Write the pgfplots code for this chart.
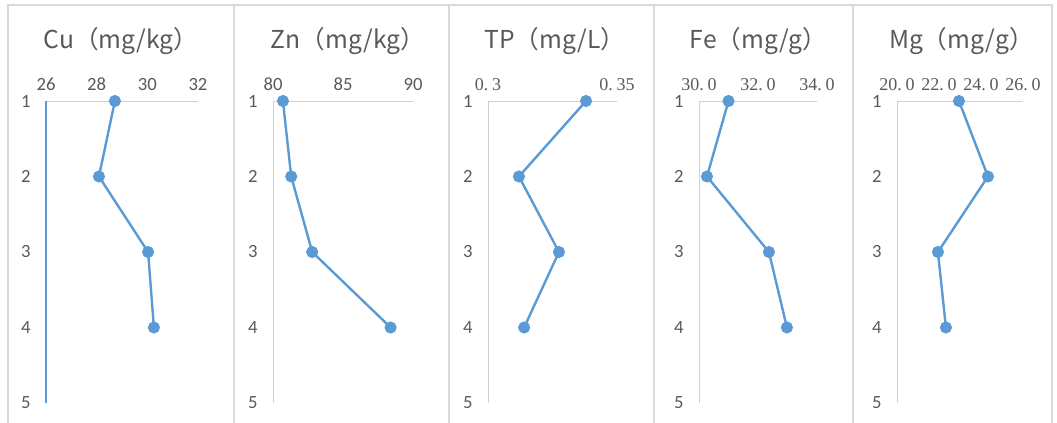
\documentclass[border=0pt]{standalone}
\usepackage{pgfplots}
\pgfplotsset{compat=1.18}
\usepackage{fontspec}
\setmainfont{Carlito}
\newfontfamily\cjk{Noto Sans CJK SC}
\newfontfamily\carlito{Carlito}
\newfontfamily\sernum{Liberation Serif}
\definecolor{blueline}{HTML}{5B9BD5}
\definecolor{txtgray}{HTML}{595959}
\definecolor{axisgray}{HTML}{D0D0D0}
\definecolor{framegray}{HTML}{D9D9D9}
\newcommand{\TL}[1]{\mbox{\carlito\fontsize{14}{15}\selectfont #1}}
\newcommand{\TS}[1]{\mbox{\sernum\fontsize{13.5}{14}\selectfont #1}}
\newcommand{\dt}{.\hspace{0.2em}}
\pgfplotsset{
  panel/.style={
    scale only axis, anchor=south west, height=226.5pt,
    ymin=1, ymax=5, y dir=reverse,
    axis x line*=top, axis y line*=left,
    axis line style={draw=axisgray, line width=0.75pt, -},
    ytick={1,2,3,4,5}, yticklabels={\TL{1},\TL{2},\TL{3},\TL{4},\TL{5}},
    tick style={draw=none},
    major tick length=0pt,
    tick label style={text=txtgray},
    yticklabel style={xshift=-8pt},
    xticklabel style={yshift=4pt},
    clip=false,
  },
  series/.style={color=blueline, line width=1.8pt, mark=*, mark size=3.6pt,
    mark options={solid, fill=blueline, draw=blueline}},
}
\begin{document}
\begin{tikzpicture}
\useasboundingbox (0,0) rectangle (792.75pt,-317.25pt);
\draw[framegray, line width=1.5pt] (6pt,-317.25pt) -- (6pt,-3.75pt) -- (789pt,-3.75pt) -- (789pt,-317.25pt);
\foreach \xx in {175.5,336.75,490.5,639.75}
  \draw[framegray, line width=1.5pt] (\xx pt,-3.75pt) -- (\xx pt,-317.25pt);

% Cu
\begin{axis}[panel, at={(34.5pt,-302.25pt)}, width=114pt,
  xmin=26, xmax=32, xtick={26,28,30,32}, xticklabels={\TL{26},\TL{28},\TL{30},\TL{32}}]
\draw[blueline, line width=0.8pt] (rel axis cs:0,0) -- (rel axis cs:0,1);
\addplot[series] coordinates {(28.72,1) (28.09,2) (30.03,3) (30.26,4)};
\end{axis}
% Zn
\begin{axis}[panel, at={(204.75pt,-302.25pt)}, width=105pt,
  xmin=80, xmax=90, xtick={80,85,90}, xticklabels={\TL{80},\TL{85},\TL{90}}]
\addplot[series] coordinates {(80.71,1) (81.3,2) (82.8,3) (88.4,4)};
\end{axis}
% TP
\begin{axis}[panel, at={(366pt,-302.25pt)}, width=96.75pt,
  xmin=0.3, xmax=0.35, xtick={0.3,0.35}, xticklabels={\TS{0\dt3},\TS{0\dt35}}]
\addplot[series] coordinates {(0.338,1) (0.312,2) (0.3275,3) (0.314,4)};
\end{axis}
% Fe
\begin{axis}[panel, at={(524.25pt,-302.25pt)}, width=88.5pt,
  xmin=30, xmax=34, xtick={30,32,34}, xticklabels={\TS{30\dt0},\TS{32\dt0},\TS{34\dt0}}]
\addplot[series] coordinates {(31.0,1) (30.27,2) (32.37,3) (32.98,4)};
\end{axis}
% Mg
\begin{axis}[panel, at={(672.75pt,-302.25pt)}, width=94.5pt,
  xmin=20, xmax=26, xtick={20,22,24,26}, xticklabels={\TS{20\dt0},\TS{22\dt0},\TS{24\dt0},\TS{26\dt0}}]
\addplot[series] coordinates {(22.95,1) (24.33,2) (21.95,3) (22.33,4)};
\end{axis}

\begin{scope}[every node/.style={font=\cjk\fontsize{18.5}{18.5}\selectfont, text=txtgray}]
\node at (90.75pt,-30.75pt) {Cu（mg/kg）};
\node at (261pt,-30.75pt) {Zn（mg/kg）};
\node at (416pt,-30.75pt) {TP（mg/L）};
\node at (569pt,-30.75pt) {Fe（mg/g）};
\node at (721pt,-30.75pt) {Mg（mg/g）};
\end{scope}
\end{tikzpicture}
\end{document}
